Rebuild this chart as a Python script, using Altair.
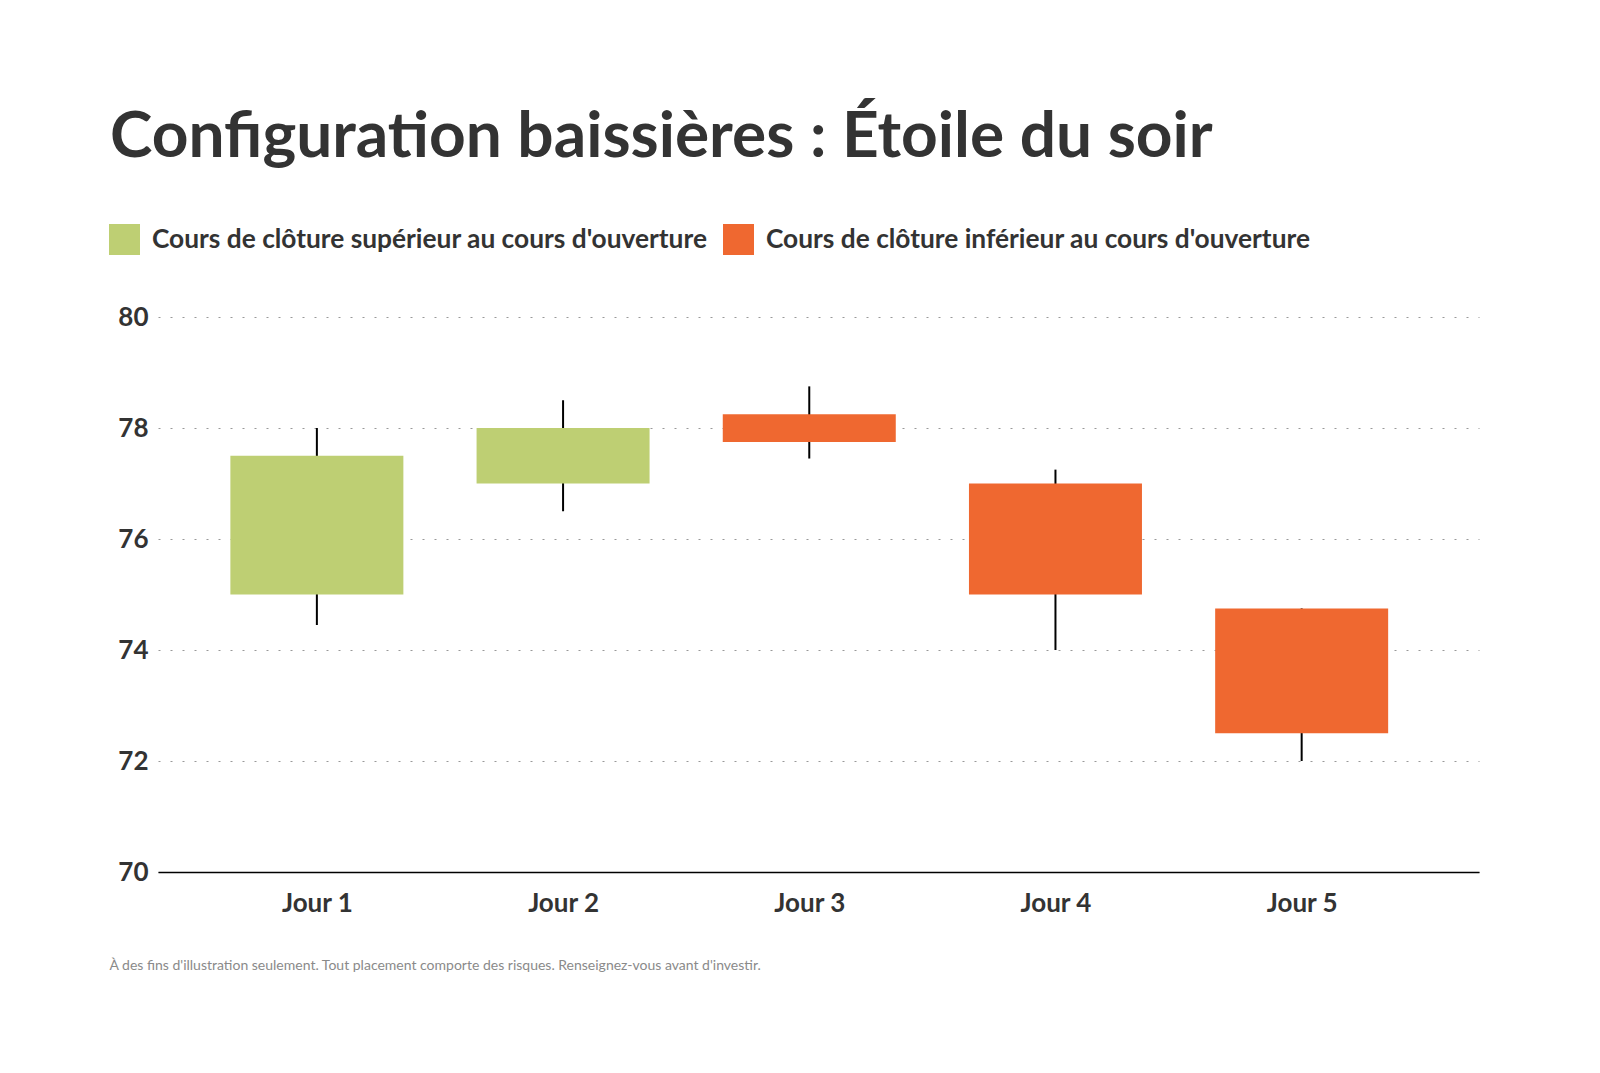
import json
import altair as alt
import pandas as pd

# ---- data ----
days = ["Jour 1", "Jour 2", "Jour 3", "Jour 4", "Jour 5"]
day_index = [1, 2, 3, 4, 5]
open_price = [75.0, 77.0, 78.25, 77.0, 74.75]
close_price = [77.5, 78.0, 77.75, 75.0, 72.5]
high_price = [78.0, 78.5, 78.75, 77.25, 74.75]
low_price = [74.45, 76.5, 77.45, 74.0, 72.0]

up_label = "Cours de clôture supérieur au cours d'ouverture"
down_label = "Cours de clôture inférieur au cours d'ouverture"
y_ticks = [70, 72, 74, 76, 78, 80]

title_text = "Configuration baissières : Étoile du soir"
footer_text = ("À des fins d'illustration seulement. Tout placement comporte des risques. "
               "Renseignez-vous avant d'investir.")

df = pd.DataFrame({
    "day": days,
    "idx": day_index,
    "open": open_price,
    "close": close_price,
    "high": high_price,
    "low": low_price,
})
df["trend"] = [up_label if c > o else down_label for o, c in zip(open_price, close_price)]

FONT = "Lato"
TEXT = "#333333"

x_scale = alt.Scale(domain=[0.375, 5.70], nice=False, zero=False)
y_scale = alt.Scale(domain=[70, 80], nice=False, zero=False)

x_axis = alt.Axis(
    values=day_index,
    labelExpr=json.dumps(days) + "[datum.value - 1]",
    grid=False, ticks=False,
    domain=True, domainColor="#000000", domainWidth=1.5,
    labelFont=FONT, labelFontSize=26, labelFontWeight="bold", labelColor=TEXT,
    labelPadding=18,
    title=footer_text, titleFont=FONT, titleFontSize=14, titleFontWeight="normal",
    titleColor="#8a8a8a", titleAnchor="start", titleAlign="left", titleBaseline="middle",
    titleX=-49, titleY=93,
)
y_axis = alt.Axis(
    values=y_ticks,
    grid=True, gridDash=[2, 10], gridColor="#999999", gridWidth=1.2,
    domain=False, ticks=False,
    labelFont=FONT, labelFontSize=26, labelFontWeight="bold", labelColor=TEXT,
    labelPadding=10,
    title=None,
)

base = alt.Chart(df)

wick = base.mark_rule(color="#000000", strokeWidth=2).encode(
    x=alt.X("idx:Q", scale=x_scale, axis=x_axis),
    y=alt.Y("low:Q", scale=y_scale, axis=y_axis),
    y2="high:Q",
)

box = base.mark_bar(size=173).encode(
    x=alt.X("idx:Q", scale=x_scale),
    y=alt.Y("open:Q", scale=y_scale),
    y2="close:Q",
    color=alt.Color(
        "trend:N",
        scale=alt.Scale(domain=[up_label, down_label], range=["#BECF73", "#EF6830"]),
        legend=alt.Legend(
            orient="none", legendX=-49, legendY=-93, direction="horizontal",
            title=None, symbolType="square", symbolSize=961, symbolStrokeWidth=0,
            symbolOpacity=1, labelFont=FONT, labelFontSize=26.3, labelFontWeight="bold",
            labelColor=TEXT, labelOffset=12, columnPadding=15, labelLimit=1000,
        ),
    ),
)

chart = alt.layer(wick, box).properties(
    width=1321,
    height=555,
    title=alt.TitleParams(
        text=title_text, font=FONT, fontSize=64, fontWeight="bold", color=TEXT,
        anchor="start", frame="group", dx=-48, offset=54,
    ),
    autosize=alt.AutoSizeParams(type="none"),
    padding={"left": 150, "top": 309, "right": 100, "bottom": 180},
    background="#ffffff",
).configure_view(stroke=None)

chart.save("out.html", embed_options={"renderer": "svg", "actions": False})
